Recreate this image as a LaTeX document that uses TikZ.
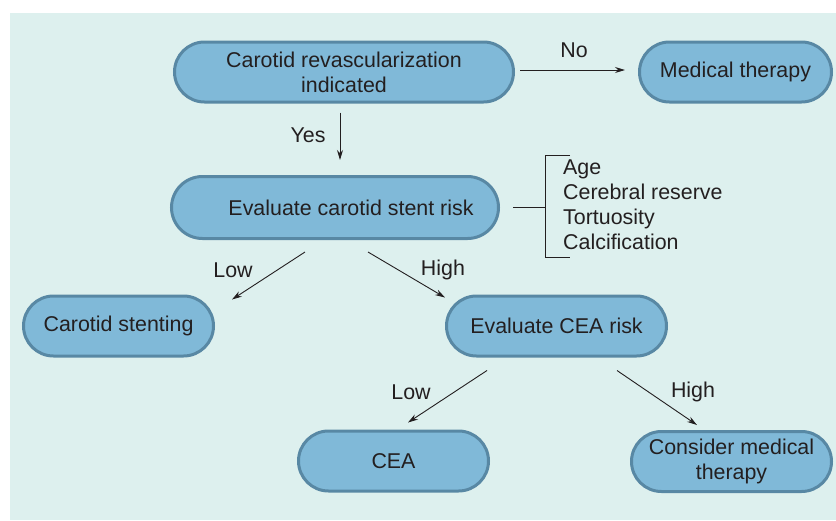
\documentclass[tikz,border=0pt]{standalone}
\usepackage{fontspec}
\setmainfont{Liberation Sans}
\usetikzlibrary{shapes.misc,arrows.meta}
\definecolor{bgcol}{RGB}{221,240,238}
\definecolor{boxfill}{RGB}{128,185,216}
\definecolor{boxedge}{RGB}{88,136,164}
\definecolor{inkcol}{RGB}{35,31,32}
\tikzset{
  stepnode/.style={rounded rectangle, fill=boxfill, draw=boxedge, line width=3pt,
    text=inkcol, align=center, inner sep=0pt, minimum height=60pt},
  lbl/.style={text=inkcol, inner sep=0pt},
  arr/.style={-{Stealth[length=10pt,width=6pt]}, line width=0.9pt, draw=inkcol}
}
\begin{document}
\begin{tikzpicture}[x=1pt, y=-1pt, font=\fontsize{21.4}{25}\selectfont]
            % Frame
            \useasboundingbox (0,0) rectangle (836,520);
            \fill[bgcol] (10,13) rectangle (836,520);

            % Boxes
            \node[stepnode, minimum width=339pt] (indic) at (344,72) {Carotid revascularization\\indicated};
            \node[stepnode, minimum width=192pt] (medic) at (735.5,72) {Medical therapy};
            \node[stepnode, minimum width=327pt, minimum height=62pt] (stent) at (335,207.5) {\hspace{32pt}Evaluate carotid stent risk};
            \node[stepnode, minimum width=190pt] (cstent) at (118.5,326) {Carotid stenting};
            \node[stepnode, minimum width=220pt] (cearisk) at (556.5,326) {Evaluate CEA risk};
            \node[stepnode, minimum width=190pt] (cea) at (393.5,461) {CEA};
            \node[stepnode, minimum width=200pt] (cmed) at (731.5,461.5) {Consider medical\\therapy};

            % Connectors
            \draw[arr, shorten <=5pt, shorten >=13pt] ([yshift=2pt]indic.east) -- ([yshift=2pt]medic.west);
            \draw[arr, shorten <=9pt, shorten >=15pt] ([xshift=-4pt]indic.south) -- ([xshift=5pt]stent.north);
            \draw[arr] ([xshift=-30pt, yshift=-12pt]stent.south) -- ([xshift=113.5pt, yshift=-5pt]cstent.north);
            \draw[arr] ([xshift=33pt, yshift=-12pt]stent.south) -- ([xshift=-111.5pt, yshift=-3pt]cearisk.north);
            \draw[arr] ([xshift=-69.5pt, yshift=-13pt]cearisk.south) -- ([xshift=14.5pt, yshift=7pt]cea.north);
            \draw[arr] ([xshift=60.5pt, yshift=-13pt]cearisk.south) -- ([xshift=-34.5pt, yshift=5pt]cmed.north);

            % Labels
            \node[lbl] (lno) at (574,50) {No};
            \node[lbl] (lyes) at (308,135) {Yes};
            \node[lbl] (llow) at (233,270) {Low};
            \node[lbl] (lhigh) at (443,270) {High};
            \node[lbl] (llow2) at (411,392) {Low};
            \node[lbl] (lhigh2) at (693,392) {High};

            % Risk factors
            \node[lbl, align=left, anchor=west] (factors) at (563,205) {Age\\Cerebral reserve\\Tortuosity\\Calcification};
            \coordinate (brtop) at (545,155);
            \coordinate (brbot) at (545,257);
            \draw[line width=0.9pt, inkcol] ([xshift=25pt]brtop) -- (brtop) -- (brbot) -- ([xshift=25pt]brbot);
            \draw[line width=0.9pt, inkcol, shorten <=13pt] (stent.east) -- (stent.east -| brtop);
\end{tikzpicture}
\end{document}
